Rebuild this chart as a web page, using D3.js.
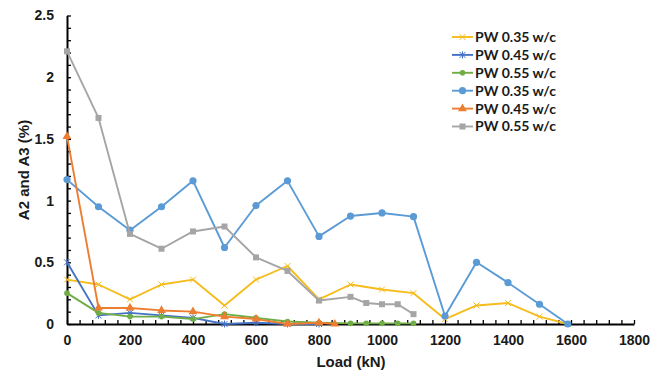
<!DOCTYPE html>
<html lang="en">
<head>
  <meta charset="UTF-8">
  <title>A2 and A3 vs Load</title>
  <style>
    body { margin: 0; background: #fff; }
    .tick text { font-family: "Liberation Sans", Arial, sans-serif; font-weight: bold; font-size: 14px; fill: #1a1a1a; }
  </style>
</head>
<body>
  <svg id="svg" width="668" height="373"></svg>

  <script src="https://d3js.org/d3.v7.min.js"></script>
  <script>
    // data
    const names = ['PW 0.35 w/c', 'PW 0.45 w/c', 'PW 0.55 w/c', 'PW 0.35 w/c', 'PW 0.45 w/c', 'PW 0.55 w/c']
    const colors = ['#F5BC1C', '#4472C4', '#70AD47', '#5B9BD5', '#ED7D31', '#A5A5A5']
    const markers = ['cross', 'star', 'dot', 'circle', 'triangle', 'square']

    const loadA = [0, 100, 200, 300, 400, 500, 600, 700, 800, 900, 1000, 1100, 1200, 1300, 1400, 1500, 1590]
    const yellow = [0.36, 0.32, 0.20, 0.32, 0.36, 0.15, 0.36, 0.47, 0.20, 0.32, 0.28, 0.25, 0.04, 0.15, 0.17, 0.06, 0]
    const lightBlue = [1.17, 0.95, 0.76, 0.95, 1.16, 0.62, 0.96, 1.16, 0.71, 0.875, 0.90, 0.87, 0.065, 0.50, 0.335, 0.16, 0]

    const loadB = [0, 100, 200, 300, 400, 500, 600, 700, 800]
    const darkBlue = [0.50, 0.07, 0.09, 0.07, 0.05, 0, 0.01, 0, 0]

    const loadC = [0, 100, 200, 300, 400, 500, 600, 700, 800, 900, 950, 1000, 1050, 1100]
    const green = [0.25, 0.09, 0.06, 0.06, 0.04, 0.08, 0.05, 0.02, 0.01, 0.005, 0.005, 0.005, 0.005, 0.005]

    const loadD = [0, 100, 200, 300, 400, 500, 600, 700, 800, 850]
    const orange = [1.52, 0.13, 0.13, 0.11, 0.10, 0.06, 0.04, 0, 0.01, 0]

    const loadE = [0, 100, 200, 300, 400, 500, 600, 700, 800, 900, 950, 1000, 1050, 1100]
    const gray = [2.21, 1.67, 0.73, 0.61, 0.75, 0.79, 0.54, 0.43, 0.19, 0.22, 0.17, 0.16, 0.16, 0.08]

    const xTicks = [0, 200, 400, 600, 800, 1000, 1200, 1400, 1600, 1800]
    const yTicks = [0, 0.5, 1, 1.5, 2, 2.5]

    const series = [
      { x: loadA, y: yellow },
      { x: loadB, y: darkBlue },
      { x: loadC, y: green },
      { x: loadA, y: lightBlue },
      { x: loadD, y: orange },
      { x: loadE, y: gray }
    ].map((s, i) => ({ ...s, name: names[i], color: colors[i], marker: markers[i] }))

    const margin = { top: 15.5, right: 34, bottom: 49, left: 67 }
    const width = 668 - margin.left - margin.right
    const height = 373 - margin.top - margin.bottom

    const xscale = d3.scaleLinear().domain([0, 1800]).range([margin.left, margin.left + width])
    const yscale = d3.scaleLinear().domain([0, 2.5]).range([margin.top + height, margin.top])

    const svg = d3.select('#svg')

    // minor ticks (inside)
    svg.append('g')
      .attr('transform', `translate(0, ${yscale(0)})`)
      .call(d3.axisTop(xscale).tickValues(d3.range(0, 1801, 40)).tickSize(4).tickFormat(''))
      .call(g => g.select('.domain').remove())
      .selectAll('line').attr('stroke', '#000').attr('stroke-width', 1.3)
    svg.append('g')
      .attr('transform', `translate(${xscale(0)}, 0)`)
      .call(d3.axisRight(yscale).tickValues(d3.range(0, 2.51, 0.1)).tickSize(4).tickFormat(''))
      .call(g => g.select('.domain').remove())
      .selectAll('line').attr('stroke', '#000').attr('stroke-width', 1.3)

    // main axes
    const bottomAxis = d3.axisBottom(xscale).tickValues(xTicks).tickSize(0).tickPadding(11).tickFormat(d3.format('d'))
    svg.append('g')
      .attr('transform', `translate(0, ${yscale(0)})`)
      .call(bottomAxis)
      .call(g => g.select('.domain').attr('stroke', '#000').attr('stroke-width', 2))

    const leftAxis = d3.axisLeft(yscale).tickValues(yTicks).tickSize(0).tickPadding(13).tickFormat(d => d)
    svg.append('g')
      .attr('transform', `translate(${xscale(0)}, 0)`)
      .call(leftAxis)
      .call(g => g.select('.domain').attr('stroke', '#000').attr('stroke-width', 2))

    // axis titles
    svg.append('text')
      .attr('x', 351).attr('y', 367)
      .attr('text-anchor', 'middle')
      .style('font-family', '"Liberation Sans", Arial, sans-serif')
      .style('font-weight', 'bold').style('font-size', '15px').style('fill', '#1a1a1a')
      .text('Load (kN)')
    svg.append('text')
      .attr('transform', 'translate(24, 170) rotate(-90)')
      .attr('dy', '0.35em')
      .attr('text-anchor', 'middle')
      .style('font-family', '"Liberation Sans", Arial, sans-serif')
      .style('font-weight', 'bold').style('font-size', '15px').style('fill', '#1a1a1a')
      .text('A2 and A3 (%)')

    function drawMarker(g, type, color) {
      if (type === 'circle') g.append('circle').attr('r', 3.6).attr('fill', color)
      else if (type === 'dot') g.append('circle').attr('r', 2.8).attr('fill', color)
      else if (type === 'square') g.append('rect').attr('x', -3).attr('y', -3).attr('width', 6).attr('height', 6).attr('fill', color)
      else if (type === 'triangle') g.append('path').attr('d', d3.symbol(d3.symbolTriangle, 34)()).attr('fill', color)
      else if (type === 'cross') g.append('path').attr('d', 'M-3,-3L3,3M-3,3L3,-3').attr('stroke', color).attr('stroke-width', 1)
      else if (type === 'star') g.append('path').attr('d', 'M-3,-3L3,3M-3,3L3,-3M0,-3.5L0,3.5').attr('stroke', color).attr('stroke-width', 1)
    }

    const line = d3.line().x(d => xscale(d[0])).y(d => yscale(d[1]))

    series.forEach(s => {
      const pts = s.x.map((x, i) => [x, s.y[i]])
      const g = svg.append('g')
      g.append('path')
        .datum(pts)
        .attr('d', line)
        .attr('fill', 'none')
        .attr('stroke', s.color)
        .attr('stroke-width', 1.9)
        .attr('stroke-linejoin', 'round')
      g.selectAll('.pt')
        .data(pts)
        .enter()
        .append('g')
        .attr('class', 'pt')
        .attr('transform', d => `translate(${xscale(d[0])}, ${yscale(d[1])})`)
        .each(function () { drawMarker(d3.select(this), s.marker, s.color) })
    })

    // legend
    const legend = svg.append('g').attr('transform', 'translate(452, 37)')
    series.forEach((s, i) => {
      const row = legend.append('g').attr('transform', `translate(0, ${i * 17.9})`)
      row.append('line').attr('x1', 0).attr('x2', 21).attr('stroke', s.color).attr('stroke-width', 1.9)
      drawMarker(row.append('g').attr('transform', 'translate(10.5, 0)'), s.marker, s.color)
      row.append('text')
        .attr('x', 23).attr('y', 0).attr('dy', '0.35em')
        .style('font-family', 'Lato, "Open Sans", sans-serif')
        .style('font-weight', 'bold').style('font-size', '14px').style('fill', '#1a1a1a')
        .text(s.name)
    })
  </script>
</body>
</html>
